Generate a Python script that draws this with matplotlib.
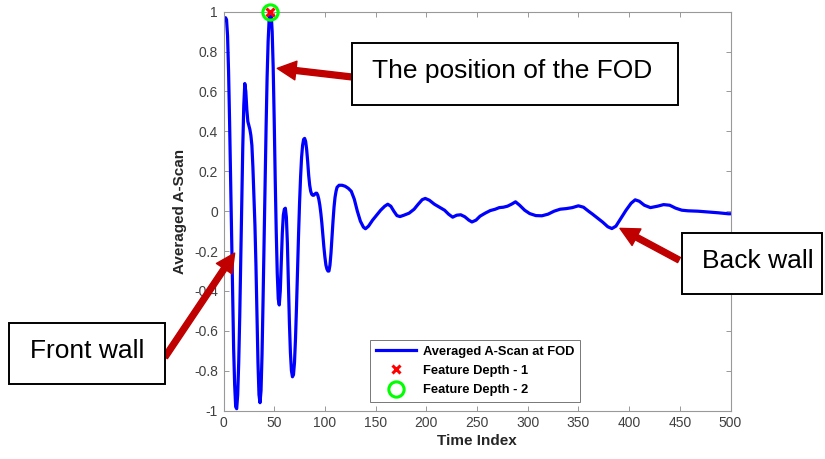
import numpy as np
import matplotlib
matplotlib.use('Agg')
import matplotlib.pyplot as plt
from matplotlib.patches import Rectangle

plt.rcParams['font.family'] = ['Liberation Sans', 'DejaVu Sans']

# averaged A-scan
time_idx = list(range(1, 113)) + [
    114, 117, 120, 123, 126, 129, 132, 135, 138, 140, 143, 147, 151, 155, 159, 162,
    165, 168, 171, 174, 178, 183, 188, 192, 196, 199, 203, 208, 213, 218, 222, 226,
    230, 234, 238, 242, 245, 249, 253, 258, 263, 268, 272, 276, 280, 284, 288, 292,
    297, 302, 308, 314, 320, 326, 332, 338, 344, 350, 355, 360, 364, 369, 374, 379,
    383, 387, 392, 397, 402, 406, 410, 415, 421, 428, 434, 440, 446, 452, 458, 468,
    478, 488, 498, 500]
ascan = [
    0.96, 0.97, 0.96, 0.88, 0.70, 0.45, 0.16, -0.15, -0.44, -0.69,
    -0.87, -0.98, -0.99, -0.92, -0.76, -0.53, -0.25, 0.04, 0.32, 0.53,
    0.64, 0.60, 0.51, 0.45, 0.43, 0.41, 0.38, 0.33, 0.22, 0.07,
    -0.07, -0.27, -0.52, -0.76, -0.92, -0.96, -0.90, -0.72, -0.45, -0.15,
    0.12, 0.42, 0.67, 0.85, 0.96, 1.00, 0.99, 0.90, 0.72, 0.46,
    0.16, -0.10, -0.31, -0.44, -0.47, -0.40, -0.26, -0.11, -0.02, 0.01,
    0.015, -0.03, -0.16, -0.36, -0.56, -0.71, -0.80, -0.83, -0.82, -0.76,
    -0.64, -0.48, -0.30, -0.12, 0.04, 0.17, 0.27, 0.33, 0.36, 0.365,
    0.35, 0.31, 0.25, 0.18, 0.13, 0.10, 0.085, 0.08, 0.08, 0.085,
    0.09, 0.09, 0.08, 0.06, 0.03, -0.01, -0.06, -0.12, -0.18, -0.23,
    -0.27, -0.29, -0.30, -0.30, -0.27, -0.21, -0.13, -0.05, 0.02, 0.07,
    0.10, 0.12,
    0.13, 0.13, 0.125, 0.115, 0.10, 0.06, 0.0, -0.05, -0.08, -0.088, -0.075, -0.045,
    -0.02, 0.005, 0.025, 0.035, 0.025, 0.0, -0.022, -0.027, -0.02, -0.01, 0.01, 0.035,
    0.058, 0.064, 0.055, 0.035, 0.02, 0.005, -0.015, -0.03, -0.02, -0.018, -0.028, -0.045,
    -0.054, -0.045, -0.025, -0.01, 0.003, 0.01, 0.018, 0.02, 0.025, 0.035, 0.047, 0.03,
    0.005, -0.012, -0.022, -0.023, -0.015, 0.0, 0.01, 0.013, 0.018, 0.027, 0.02, 0.0,
    -0.015, -0.035, -0.055, -0.078, -0.087, -0.075, -0.035, 0.005, 0.04, 0.057, 0.05, 0.03,
    0.018, 0.025, 0.033, 0.03, 0.015, 0.005, 0.002, 0.0, -0.004, -0.008, -0.013, -0.013]

depth1 = (46, 1.0)
depth2 = (46, 1.0)

xticks = [0, 50, 100, 150, 200, 250, 300, 350, 400, 450, 500]
yticks = [-1, -0.8, -0.6, -0.4, -0.2, 0, 0.2, 0.4, 0.6, 0.8, 1]
ytick_labels = ['-1', '-0.8', '-0.6', '-0.4', '-0.2', '0', '0.2', '0.4', '0.6', '0.8', '1']

W, H = 825, 459
fig = plt.figure(figsize=(W / 100, H / 100), dpi=100)
ax = fig.add_axes([223.5 / W, 1 - 410.7 / H, 507 / W, 399 / H])

ax.plot(time_idx, ascan, color='#0000ff', lw=2.3, solid_joinstyle='round',
        label='Averaged A-Scan at FOD')
ax.plot(depth1[0], depth1[1], 'x', color='#ff0000', ms=6, mew=2.2, ls='none',
        label='Feature Depth - 1', clip_on=False, zorder=4)
ax.plot(depth2[0], depth2[1], 'o', mfc='none', mec='#00ff00', ms=11, mew=2.2, ls='none',
        label='Feature Depth - 2', clip_on=False, zorder=4)

ax.set_xlim(0, 500)
ax.set_ylim(-1, 1)
ax.set_xticks(xticks)
ax.set_yticks(yticks)
ax.set_yticklabels(ytick_labels)
ax.tick_params(direction='in', length=3.5, width=0.6, color='#888888',
               labelcolor='#404040', labelsize=10, top=True, right=True, pad=4)
for s in ax.spines.values():
    s.set_color('#999999')
    s.set_linewidth(0.8)
ax.set_xlabel('Time Index', fontsize=11, fontweight='bold', color='#262626', labelpad=3)
ax.set_ylabel('Averaged A-Scan', fontsize=11, fontweight='bold', color='#262626', labelpad=5)

leg = ax.legend(loc='upper left', bbox_to_anchor=(370 / W, 1 - 340 / H),
                bbox_transform=fig.transFigure, borderaxespad=0,
                prop={'weight': 'bold', 'size': 9.3}, handlelength=3.1,
                handletextpad=0.55, borderpad=0.45, labelspacing=0.55,
                fancybox=False, framealpha=1)
leg.get_frame().set_edgecolor('#777777')
leg.get_frame().set_linewidth(0.7)


def fx(x):
    return x / W


def fy(y):
    return 1 - y / H


# text boxes (image pixel coords: left, top, right, bottom)
boxes = [
    ((352.3, 43.3, 677.7, 105), 'The position of the FOD', 372.3, 78.3),
    ((681.7, 232.7, 822, 294), 'Back wall', 701.7, 267.7),
    ((9.3, 323.3, 165, 384), 'Front wall', 30, 357.7),
]
for (l, t, r, b), txt, tx, ty in boxes:
    fig.add_artist(Rectangle((fx(l), fy(b)), fx(r) - fx(l), fy(t) - fy(b),
                             transform=fig.transFigure, facecolor='white',
                             edgecolor='black', lw=1.4, zorder=5))
    fig.text(fx(tx), fy(ty), txt, fontsize=19, va='baseline', ha='left', zorder=6)

arrow_style = 'simple,head_width=1.35,head_length=1.35,tail_width=0.42'
arrows = [
    ((53, 0.716), (352, 77)),
    ((11, -0.21), (165, 357)),
    ((391, -0.086), (679, 260)),
]
for tip, tail in arrows:
    ann = ax.annotate('', xy=tip, xycoords='data',
                      xytext=(tail[0], H - tail[1]), textcoords='figure pixels',
                      arrowprops=dict(arrowstyle=arrow_style, color='#c00000',
                                      shrinkA=0, shrinkB=0, mutation_scale=10),
                      annotation_clip=False)
    ann.set_zorder(4)

fig.savefig('out.png', dpi=100)
